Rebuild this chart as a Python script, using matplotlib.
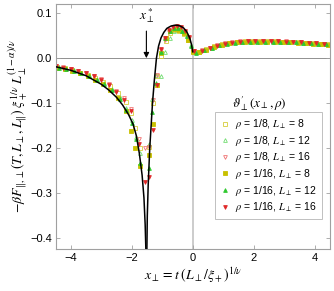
import matplotlib
matplotlib.use("Agg")
import matplotlib.pyplot as plt

plt.rcParams["font.family"] = ["Liberation Sans", "DejaVu Sans"]
plt.rcParams["mathtext.fontset"] = "stix"

# scaling function (black curve), two branches around the singularity x*
curve_left_x = [-4.5, -4.0, -3.5, -3.0, -2.75, -2.5, -2.3, -2.1, -1.96, -1.85,
                -1.75, -1.66, -1.60, -1.56, -1.535]
curve_left_y = [-0.019, -0.027, -0.039, -0.058, -0.071, -0.087, -0.104, -0.126,
                -0.146, -0.172, -0.212, -0.26, -0.31, -0.37, -0.43]
curve_right_x = [-1.505, -1.49, -1.46, -1.41, -1.36, -1.32, -1.26, -1.19, -1.12,
                 -1.04, -0.95, -0.85, -0.72, -0.6, -0.5, -0.4, -0.3, -0.2, -0.1,
                 -0.04, 0.0]
curve_right_y = [-0.43, -0.35, -0.28, -0.20, -0.145, -0.10, -0.05, 0.0, 0.027,
                 0.045, 0.057, 0.066, 0.071, 0.073, 0.073, 0.071, 0.067, 0.059,
                 0.045, 0.030, 0.014]
x_star = -1.52

# scaling variable for each L_perp
x_L8 = [-4.45, -4.2, -3.95, -3.7, -3.45, -3.2, -2.95, -2.7, -2.45, -2.2, -2.02,
        -1.88, -1.74, -1.45, -1.31, -1.17, -1.03, -0.87, -0.73, -0.58, -0.44,
        -0.3, -0.15, 0.02, 0.2, 0.45, 0.7, 0.95, 1.2, 1.45, 1.7, 1.95, 2.2, 2.45,
        2.7, 2.95, 3.2, 3.45, 3.7, 3.95, 4.2, 4.45]
x_L12 = [-4.4, -4.15, -3.9, -3.65, -3.4, -3.15, -2.9, -2.65, -2.4, -2.18, -2.0,
         -1.86, -1.73, -1.44, -1.33, -1.19, -1.05, -0.9, -0.76, -0.62, -0.48,
         -0.34, -0.2, -0.05, 0.12, 0.37, 0.62, 0.87, 1.12, 1.37, 1.62, 1.87,
         2.12, 2.37, 2.62, 2.87, 3.12, 3.37, 3.62, 3.87, 4.12, 4.37]
x_L16 = [-4.5, -4.25, -4.0, -3.75, -3.5, -3.25, -3.0, -2.75, -2.5, -2.25, -2.02,
         -1.75, -1.58, -1.44, -1.31, -1.18, -1.05, -0.92, -0.78, -0.65, -0.52,
         -0.39, -0.26, -0.13, 0.05, 0.3, 0.55, 0.8, 1.05, 1.3, 1.55, 1.8, 2.05,
         2.3, 2.55, 2.8, 3.05, 3.3, 3.55, 3.8, 4.05, 4.3]

# rho = 1/8 (open symbols)
y_r8_L8 = [-0.019, -0.023, -0.027, -0.032, -0.037, -0.044, -0.052, -0.063, -0.078,
           -0.098, -0.122, -0.156, -0.20, -0.197, -0.10, -0.04, 0.005, 0.038,
           0.055, 0.062, 0.060, 0.054, 0.040, 0.015, 0.014, 0.020, 0.026, 0.031,
           0.034, 0.036, 0.037, 0.037, 0.037, 0.037, 0.037, 0.036, 0.036, 0.035,
           0.034, 0.033, 0.032, 0.031]
y_r8_L12 = [-0.019, -0.023, -0.027, -0.032, -0.038, -0.046, -0.056, -0.068, -0.086,
            -0.110, -0.138, -0.175, -0.21, -0.19, -0.09, -0.038, -0.040, 0.014,
            0.044, 0.060, 0.064, 0.060, 0.050, 0.030, 0.013, 0.018, 0.023, 0.029,
            0.033, 0.035, 0.036, 0.037, 0.037, 0.037, 0.037, 0.036, 0.036, 0.035,
            0.034, 0.033, 0.032, 0.031]
y_r8_L16 = [-0.017, -0.020, -0.024, -0.028, -0.033, -0.039, -0.047, -0.058, -0.072,
            -0.089, -0.112, -0.18, -0.20, -0.197, -0.093, -0.038, 0.018, 0.040,
            0.058, 0.066, 0.069, 0.066, 0.058, 0.044, 0.016, 0.017, 0.023, 0.029,
            0.033, 0.035, 0.037, 0.038, 0.038, 0.038, 0.038, 0.037, 0.037, 0.036,
            0.035, 0.034, 0.033, 0.032]
# rho = 1/16 (filled symbols)
y_r16_L8 = [-0.021, -0.025, -0.029, -0.034, -0.040, -0.048, -0.058, -0.071, -0.088,
            -0.118, -0.162, -0.200, -0.240, -0.216, -0.147, -0.06, 0.012, 0.045,
            0.060, 0.064, 0.062, 0.055, 0.040, 0.014, 0.013, 0.019, 0.025, 0.030,
            0.033, 0.035, 0.036, 0.036, 0.036, 0.036, 0.036, 0.035, 0.035, 0.034,
            0.033, 0.032, 0.031, 0.030]
y_r16_L12 = [-0.021, -0.025, -0.029, -0.034, -0.040, -0.048, -0.058, -0.071, -0.090,
             -0.115, -0.145, -0.18, -0.233, -0.245, -0.12, -0.056, 0.014, 0.045,
             0.060, 0.066, 0.066, 0.060, 0.050, 0.028, 0.012, 0.017, 0.023, 0.029,
             0.032, 0.034, 0.035, 0.036, 0.036, 0.036, 0.036, 0.036, 0.035, 0.035,
             0.034, 0.033, 0.032, 0.031]
y_r16_L16 = [-0.018, -0.021, -0.025, -0.029, -0.034, -0.040, -0.048, -0.060, -0.075,
             -0.093, -0.118, -0.19, -0.275, -0.264, -0.16, -0.06, 0.02, 0.045,
             0.062, 0.069, 0.071, 0.068, 0.060, 0.046, 0.015, 0.016, 0.022, 0.028,
             0.032, 0.034, 0.036, 0.037, 0.037, 0.037, 0.037, 0.037, 0.036, 0.036,
             0.035, 0.034, 0.033, 0.032]

series = [
    (x_L8, y_r8_L8, "s", "#d6cc3a", "none", r"$\rho$ = 1/8, $L_\perp$ = 8"),
    (x_L12, y_r8_L12, "^", "#6fdc6f", "none", r"$\rho$ = 1/8, $L_\perp$ = 12"),
    (x_L16, y_r8_L16, "v", "#f07070", "none", r"$\rho$ = 1/8, $L_\perp$ = 16"),
    (x_L8, y_r16_L8, "s", "#c8c000", "#c8c000", r"$\rho$ = 1/16, $L_\perp$ = 8"),
    (x_L12, y_r16_L12, "^", "#2ec82e", "#2ec82e", r"$\rho$ = 1/16, $L_\perp$ = 12"),
    (x_L16, y_r16_L16, "v", "#e02828", "#e02828", r"$\rho$ = 1/16, $L_\perp$ = 16"),
]

fig = plt.figure(figsize=(3.34, 2.91), dpi=100)
ax = fig.add_axes([0.168, 0.144, 0.82, 0.842])

ax.axvline(0, color="#c8c8c8", lw=1.3, zorder=0)
ax.axhline(0, color="#909090", lw=0.7, zorder=0)

for xs, ys, mk, ec, fc, lab in series:
    ax.plot(xs, ys, ls="none", marker=mk, ms=2.7, mec=ec, mfc=fc, mew=0.6,
            label=lab, zorder=2)

ax.plot(curve_left_x, curve_left_y, color="black", lw=1.1, zorder=3)
ax.plot(curve_right_x, curve_right_y, color="black", lw=1.1, zorder=3)

ax.annotate("", xy=(x_star, 0.0), xytext=(x_star, 0.06),
            arrowprops=dict(arrowstyle="-|>", color="black", lw=0.8,
                            mutation_scale=8, shrinkA=0, shrinkB=0))
ax.text(x_star, 0.074, r"$x_\perp^*$", ha="center", va="bottom", fontsize=9.5)
ax.text(2.2, -0.1, r"$\vartheta_\perp'(x_\perp,\rho)$", ha="center",
        va="center", fontsize=9.5)

ax.set_xlim(-4.48, 4.5)
ax.set_ylim(-0.424, 0.12)
ax.set_xticks([-4, -2, 0, 2, 4])
ax.set_yticks([-0.4, -0.3, -0.2, -0.1, 0.0, 0.1])
ax.set_xticklabels(["\u22124", "\u22122", "0", "2", "4"])
ax.set_yticklabels(["\u22120.4", "\u22120.3", "\u22120.2", "\u22120.1", "0.0", "0.1"])
ax.tick_params(direction="in", length=3, width=0.6, color="#a0a0a0",
               labelsize=8, top=True, right=True, pad=3)
for sp in ax.spines.values():
    sp.set_color("#a0a0a0")
    sp.set_linewidth(0.8)

ax.set_xlabel(r"$x_\perp = t\;(L_\perp/\xi_+)^{1/\nu}$", fontsize=10, labelpad=2)
ax.set_ylabel(r"$-\beta F_{\|,\perp}(T,L_\perp,L_\|)\;\xi_+^{1/\nu}\;L_\perp^{(1-\alpha)/\nu}$",
              fontsize=10, labelpad=1)

leg = ax.legend(loc="lower right", fontsize=7.5, handlelength=0.8,
                handletextpad=0.6, borderpad=0.5, labelspacing=0.25,
                frameon=True, fancybox=False, bbox_to_anchor=(0.99, 0.1))
leg.get_frame().set_edgecolor("#b0b0b0")
leg.get_frame().set_linewidth(0.7)

fig.savefig("out.png", dpi=100)
